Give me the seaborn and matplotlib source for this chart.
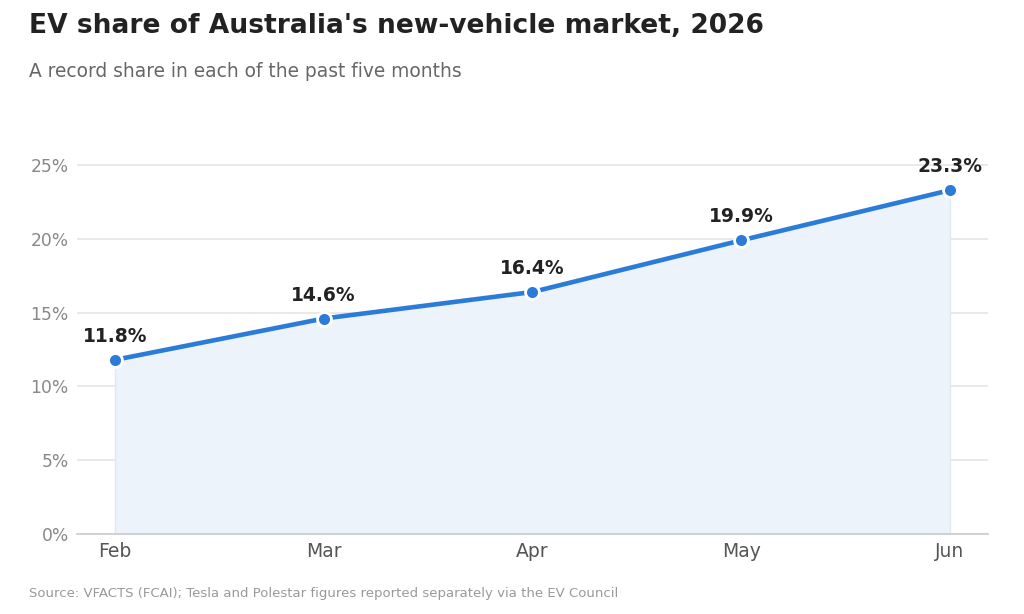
import seaborn as sns
import matplotlib.pyplot as plt
import pandas as pd

# data
months = ["Feb", "Mar", "Apr", "May", "Jun"]
ev_share = [11.8, 14.6, 16.4, 19.9, 23.3]
y_ticks = [0, 5, 10, 15, 20, 25]

df = pd.DataFrame({"month": months, "share": ev_share})
df["pos"] = range(len(df))

sns.set_theme(style="white")
plt.rcParams["font.family"] = ["DejaVu Sans"]

blue = "#2b7bd8"

fig = plt.figure(figsize=(10.24, 6.14), dpi=100)
ax = fig.add_axes([0.0752, 0.1303, 0.8896, 0.6417])

ax.fill_between(df["pos"], df["share"], 0, color="#edf3fb",
                edgecolor="#dfe8f5", linewidth=1, zorder=1)
sns.lineplot(data=df, x="pos", y="share", ax=ax, color=blue, linewidth=3.3,
             marker="o", markersize=10, markerfacecolor=blue,
             markeredgecolor="white", markeredgewidth=2, zorder=3)

for x, y in zip(df["pos"], df["share"]):
    ax.annotate(f"{y:.1f}%", (x, y), xytext=(0, 10), textcoords="offset points",
                ha="center", va="bottom", fontsize=13.5, fontweight="bold",
                color="#222222", zorder=4)

ax.set_xlim(-0.182, 4.182)
ax.set_ylim(0, 26.7)
ax.set_xticks(df["pos"])
ax.set_xticklabels(months)
ax.set_yticks(y_ticks)
ax.set_yticklabels([f"{t}%" for t in y_ticks])
ax.tick_params(axis="x", colors="#555555", labelsize=13.5, length=0, pad=6)
ax.tick_params(axis="y", colors="#888888", labelsize=12.3, length=0, pad=6)
ax.set_xlabel("")
ax.set_ylabel("")
ax.grid(axis="y", color="#e5e5e2", linewidth=1.2, zorder=0)
ax.set_axisbelow(True)
for s in ["top", "right", "left"]:
    ax.spines[s].set_visible(False)
ax.spines["bottom"].set_color("#cccccc")
ax.spines["bottom"].set_linewidth(1.2)

fig.text(0.028, 0.958, "EV share of Australia's new-vehicle market, 2026",
         fontsize=19.1, fontweight="bold", color="#222222", va="center")
fig.text(0.028, 0.884, "A record share in each of the past five months",
         fontsize=13.4, color="#666666", va="center")
fig.text(0.028, 0.033, "Source: VFACTS (FCAI); Tesla and Polestar figures reported separately via the EV Council",
         fontsize=9.55, color="#999999", va="center")

fig.savefig("out.png", dpi=100)
